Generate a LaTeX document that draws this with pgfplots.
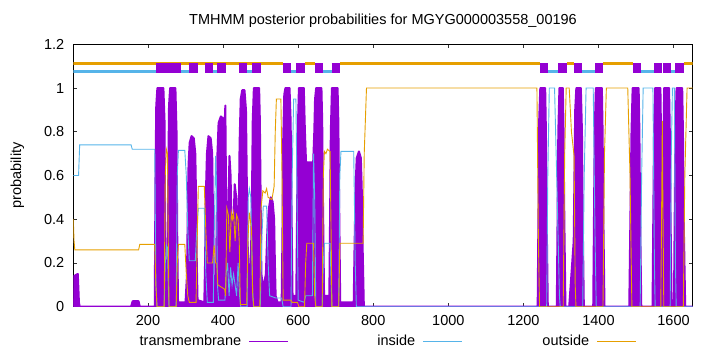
\documentclass[border=0pt]{standalone}
\usepackage{fontspec}
\setmainfont{Liberation Sans}
\usepackage{pgfplots}
\pgfplotsset{compat=1.18}
\definecolor{tmcol}{HTML}{9400D3}
\definecolor{incol}{HTML}{56B4E9}
\definecolor{outcol}{HTML}{E69F00}
\begin{document}
\begin{tikzpicture}[font=\fontsize{14.5bp}{17bp}\selectfont]
\path[use as bounding box] (-73.3bp,-45.3bp) rectangle (646.7bp,306.7bp);
\begin{axis}[
  at={(0,0)}, anchor=south west,
  scale only axis, width=619.4bp, height=262.4bp,
  xmin=1, xmax=1651, ymin=0, ymax=1.2,
  xtick={200,400,600,800,1000,1200,1400,1600},
  ytick={0,0.2,0.4,0.6,0.8,1,1.2},
  /pgf/number format/assume math mode=true,
  /pgf/number format/1000 sep={},
  tick align=inside, major tick length=4bp,
  tick style={black!80, line width=0.6bp},
  axis line style={line width=0.8bp},
  xticklabel style={yshift=-5.5bp},
  yticklabel style={xshift=-5.5bp},
  ylabel={probability},
  ylabel style={at={(axis description cs:-0.0901,0.5)}, anchor=center},
  title={TMHMM posterior probabilities for MGYG000003558\_00196},
  title style={at={(axis description cs:0.5,1)}, anchor=base, yshift=14bp},
  unbounded coords=jump,
  legend columns=3,
  legend plot pos=right,
  legend style={draw=none, fill=none, at={(axis description cs:0,0)}, anchor=west,
    xshift=44.7bp, yshift=-34.3bp, inner sep=0pt, column sep=0pt,
    nodes={text width=119bp, align=right, inner xsep=4bp, inner ysep=2bp}},
]
\addlegendimage{legend image code/.code={\draw[draw=none] (0bp,0bp) -- (47bp,0bp); \draw[draw=tmcol, color=tmcol, line width=1bp] (4bp,0bp) -- (43bp,0bp);}}
\addlegendentry{transmembrane}
\addlegendimage{legend image code/.code={\draw[draw=none] (0bp,0bp) -- (47bp,0bp); \draw[draw=incol, color=incol, line width=1bp] (4bp,0bp) -- (43bp,0bp);}}
\addlegendentry{inside}
\addlegendimage{legend image code/.code={\draw[draw=none] (0bp,0bp) -- (47bp,0bp); \draw[draw=outcol, color=outcol, line width=1bp] (4bp,0bp) -- (43bp,0bp);}}
\addlegendentry{outside}
\addplot[forget plot, draw=tmcol, fill=tmcol, line width=2bp, line join=round] table {
x y
1 0
3 0.14
13 0.15
16 0.02
18 0
155 0
159 0.025
175 0.025
178 0
218 0
220 0.6
222 0.92
225 1
241 1
244 0.85
246 0.3
248 0.02
252 0.02
254 0.6
256 0.92
259 1
273 1
276 0.8
278 0.3
280 0.02
300 0.02
304 0.15
306 0.45
308 0.65
311 0.75
316 0.78
322 0.77
326 0.7
328 0.5
330 0.2
332 0.03
350 0.02
352 0.2
354 0.5
357 0.7
361 0.78
367 0.77
371 0.7
373 0.45
375 0.15
378 0.05
381 0.08
383 0.4
385 0.7
388 0.84
394 0.87
401 0.86
404 0.82
406 0.92
408 0.5
411 0.3
414 0.45
417 0.69
420 0.6
423 0.3
427 0.35
431 0.56
435 0.5
439 0.3
442 0.45
444 0.75
447 0.95
451 0.99
457 0.99
461 0.9
463 0.6
465 0.3
469 0.15
474 0.2
477 0.5
479 0.85
482 1
496 1
498 0.85
500 0.5
502 0.15
507 0.08
514 0.15
518 0.35
522 0.45
527 0.5
532 0.48
536 0.4
538 0.2
540 0.05
545 0.02
556 0.02
558 0.3
560 0.75
563 0.97
566 1
577 1
580 0.85
582 0.5
585 0.05
595 0.05
597 0.4
599 0.8
602 1
615 1
618 0.8
621 0.66
640 0.66
643 0.8
645 0.95
648 1
662 1
664 0.85
666 0.5
669 0.05
683 0.05
685 0.4
687 0.8
690 1
705 1
707 0.85
709 0.5
712 0.02
748 0.02
750 0.25
753 0.55
756 0.68
762 0.71
767 0.68
770 0.5
772 0.25
775 0
1238 0
1240 0.4
1242 0.85
1245 1
1258 1
1260 0.8
1262 0.4
1265 0
1289 0
1291 0.4
1293 0.8
1296 1
1305 1
1307 0.8
1309 0.4
1312 0
1322 0
1328 0.15
1334 0.3
1336 0.6
1338 0.9
1341 1
1353 1
1356 0.8
1358 0.4
1361 0
1386 0
1388 0.4
1390 0.8
1393 1
1409 1
1411 0.8
1413 0.4
1416 0
1482 0
1485 0.4
1488 0.8
1491 1
1507 1
1509 0.8
1511 0.4
1514 0
1544 0
1546 0.4
1548 0.8
1551 1
1565 1
1568 0.6
1570 0.15
1572 0.6
1575 1
1588 1
1590 0.8
1592 0.4
1595 0
1601 0
1603 0.4
1605 0.8
1608 1
1623 1
1625 0.8
1627 0.4
1631 0
1651 0
} \closedcycle;
\addplot[forget plot, color=incol, line width=0.9bp] table {
x y
1 0.6
15 0.6
18 0.74
155 0.74
158 0.72
218 0.72
221 0.1
224 0
243 0
246 0.2
249 0.28
252 0.27
254 0.1
256 0
275 0
278 0.6
281 0.715
298 0.715
302 0.6
306 0.35
310 0.21
326 0.21
330 0.35
334 0.45
350 0.45
354 0.15
358 0.02
374 0.02
377 0.4
380 0.69
382 0.6
385 0.1
388 0.03
405 0.03
408 0.15
412 0.2
416 0.05
420 0.18
424 0.1
428 0.15
436 0.05
440 0.2
444 0.05
447 0
464 0
467 0.5
470 0.54
474 0.5
478 0.1
481 0
499 0
503 0.3
507 0.46
516 0.46
520 0.2
524 0.05
540 0.04
556 0.04
560 0
581 0
584 0.6
588 0.95
594 0.95
597 0.5
600 0.03
616 0.02
620 0.05
638 0.05
641 0.7
644 0.5
647 0
664 0
667 0.2
670 0.29
685 0.29
688 0.1
690 0
708 0
711 0.6
714 0.71
748 0.71
752 0.2
755 0
1262 0
1265 0.6
1269 1
1283 1
1290 0.5
1296 0.05
1298 0
1358 0
1362 0.6
1367 1
1386 1
1391 0.3
1394 0
1511 0
1515 0.6
1519 1
1545 1
1549 0.2
1551 0
1591 0
1594 0.7
1597 1
1602 1
1605 0.2
1607 0
1651 0
};
\addplot[forget plot, color=outcol, line width=0.9bp] table {
x y
1 0.4
3 0.3
5 0.26
175 0.26
178 0.285
218 0.285
221 0.1
224 0
243 0
246 0.6
249 0.72
252 0.7
254 0.3
256 0
275 0
278 0.2
281 0.285
298 0.285
302 0.15
306 0.05
310 0.02
328 0.02
331 0.3
334 0.55
350 0.55
354 0.35
358 0.2
372 0.2
376 0.28
380 0.2
383 0.2
386 0.1
404 0.08
407 0.05
410 0.45
414 0.42
418 0.25
422 0.43
425 0.4
428 0.43
432 0.3
436 0.42
440 0.4
443 0.3
446 0.01
463 0.01
466 0.3
470 0.43
476 0.35
479 0.05
482 0
498 0
501 0.45
506 0.53
512 0.52
516 0.54
520 0.5
530 0.49
536 0.55
539 0.8
542 0.95
554 0.95
557 0.6
560 0.03
580 0.03
584 0.02
598 0.02
602 0
617 0
620 0.2
623 0.29
641 0.29
644 0.05
647 0
664 0
667 0.6
670 0.71
674 0.7
678 0.72
685 0.71
688 0.3
690 0
708 0
711 0.29
773 0.29
776 0.7
782 1
1236 1
1240 0.3
1243 0
1306 0
1310 0.7
1314 1
1322 1
1328 0.8
1335 0.69
1338 0.1
1340 0
1412 0
1416 0.7
1421 1
1478 1
1484 0.6
1489 0
1566 0
1569 0.6
1570 0.85
1571 0.6
1574 0
1626 0
1630 0.6
1636 1
1651 1
};
% topology strip
\addplot[forget plot, color=outcol, line width=3bp] coordinates {
(1,1.112)(560,1.112)(560,nan)
(618,1.112)(645,1.112)(645,nan)
(711,1.112)(1243,1.112)(1243,nan)
(1316,1.112)(1335,1.112)(1335,nan)
(1413,1.112)(1492,1.112)(1492,nan)
(1627,1.112)(1651,1.112)};
\addplot[forget plot, color=incol, line width=3bp] coordinates {
(1,1.074)(222,1.074)(222,nan)
(289,1.074)(309,1.074)(309,nan)
(373,1.074)(385,1.074)(385,nan)
(464,1.074)(478,1.074)(478,nan)
(582,1.074)(594,1.074)(594,nan)
(667,1.074)(689,1.074)(689,nan)
(1265,1.074)(1293,1.074)(1293,nan)
(1357,1.074)(1391,1.074)(1391,nan)
(1513,1.074)(1549,1.074)(1549,nan)
(1593,1.074)(1605,1.074)};
\addplot[forget plot, color=tmcol, line width=10bp] coordinates {
(222,1.092)(289,1.092)(289,nan)
(309,1.092)(332,1.092)(332,nan)
(353,1.092)(373,1.092)(373,nan)
(385,1.092)(407,1.092)(407,nan)
(443,1.092)(464,1.092)(464,nan)
(478,1.092)(500,1.092)(500,nan)
(560,1.092)(582,1.092)(582,nan)
(594,1.092)(618,1.092)(618,nan)
(645,1.092)(667,1.092)(667,nan)
(689,1.092)(711,1.092)(711,nan)
(1243,1.092)(1265,1.092)(1265,nan)
(1293,1.092)(1316,1.092)(1316,nan)
(1335,1.092)(1357,1.092)(1357,nan)
(1391,1.092)(1413,1.092)(1413,nan)
(1492,1.092)(1513,1.092)(1513,nan)
(1549,1.092)(1569,1.092)(1569,nan)
(1571,1.092)(1593,1.092)(1593,nan)
(1605,1.092)(1627,1.092)};
\end{axis}
\end{tikzpicture}
\end{document}
